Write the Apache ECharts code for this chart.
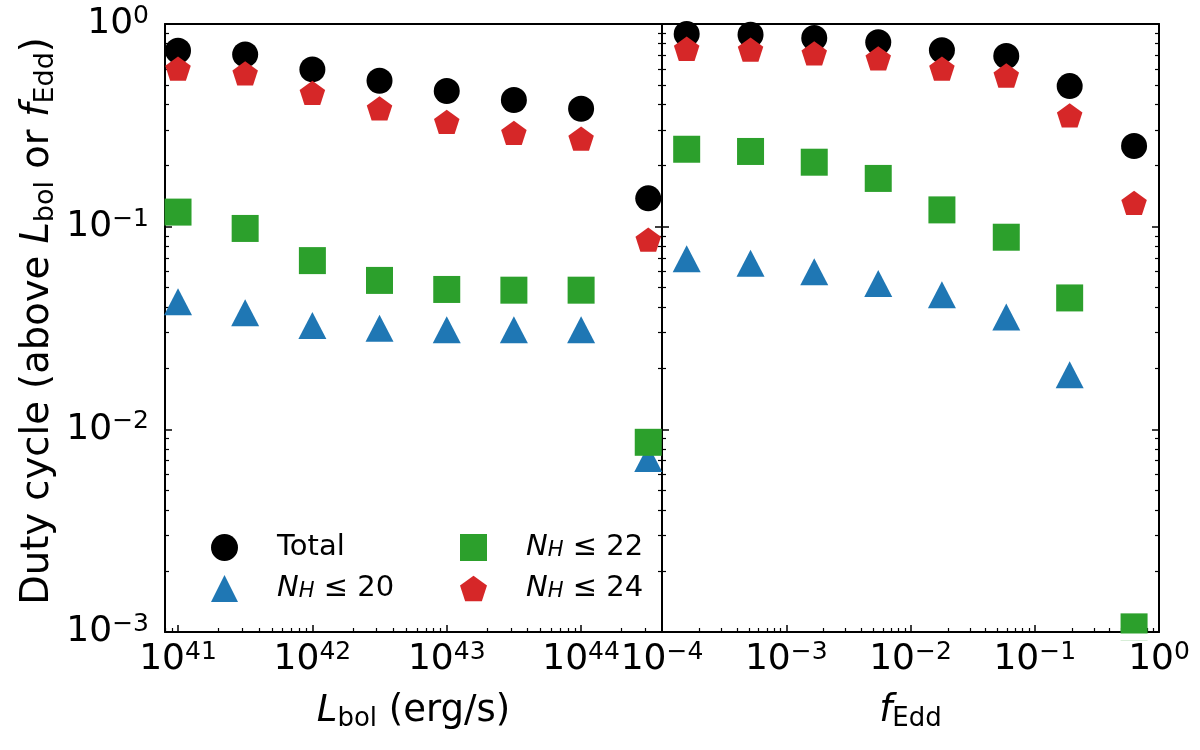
<!DOCTYPE html>
<html>
<head>
<meta charset="utf-8">
<title>Duty cycle</title>
<script src="https://cdn.jsdelivr.net/npm/echarts@6/dist/echarts.min.js"></script>
<style>
  html, body { margin: 0; padding: 0; background: #fff; }
  #chart { width: 1200px; height: 750px; }
</style>
</head>
<body>
<div id="chart"></div>
<script>
// left panel: duty cycle above L_bol (erg/s)
var lbolBins  = [1e41, 3.16e41, 1e42, 3.16e42, 1e43, 3.16e43, 1e44, 3.16e44];
var lbolTotal = [0.738, 0.708, 0.597, 0.525, 0.467, 0.422, 0.382, 0.138];
var lbolNH20  = [0.0426, 0.0376, 0.0325, 0.0315, 0.031, 0.031, 0.031, 0.00718];
var lbolNH22  = [0.118, 0.098, 0.068, 0.0543, 0.049, 0.0486, 0.0486, 0.00863];
var lbolNH24  = [0.593, 0.562, 0.451, 0.378, 0.324, 0.286, 0.268, 0.085];

// right panel: duty cycle above f_Edd
var feddBins  = [1.58e-4, 5.16e-4, 1.68e-3, 5.5e-3, 1.79e-2, 5.9e-2, 0.191, 0.63];
var feddTotal = [0.893, 0.885, 0.853, 0.813, 0.742, 0.695, 0.494, 0.250];
var feddNH20  = [0.0695, 0.0659, 0.0599, 0.0525, 0.0461, 0.0358, 0.0186, null];
var feddNH22  = [0.241, 0.235, 0.208, 0.173, 0.121, 0.0887, 0.0445, 0.00106];
var feddNH24  = [0.744, 0.736, 0.706, 0.667, 0.593, 0.549, 0.349, 0.129];

// axis ranges and major tick labels
var lbolRange = [8e40, 4e44];
var feddRange = [1e-4, 1];
var yRange = [1e-3, 1];
var lbolTicks = [1e41, 1e42, 1e43, 1e44];
var feddTicks = [1e-4, 1e-3, 1e-2, 1e-1, 1];
var yTicks = [1e-3, 1e-2, 1e-1, 1];

var seriesNames = ['Total', 'NH20', 'NH22', 'NH24'];
var legendText = {
  'Total': '{n|Total}',
  'NH20': '{i|N}{sub|H}{n| \u2264 20}',
  'NH22': '{i|N}{sub|H}{n| \u2264 22}',
  'NH24': '{i|N}{sub|H}{n| \u2264 24}'
};
var colors = ['#000000', '#1f77b4', '#2ca02c', '#d62728'];
var pentagon = 'path://M0,-1L0.951,-0.309L0.588,0.809L-0.588,0.809L-0.951,-0.309Z';
var symbols = ['circle', 'triangle', 'rect', pentagon];
var symbolSizes = [26, [28, 27], [27, 27], [25.5, 24.3]];
var symbolOffsets = [[0, 0], [0, 0], [0, 0], [0, -1.3]];

var FONT = 'DejaVu Sans';

function minorTicks(range) {
  var out = [];
  var lo = Math.floor(Math.log10(range[0]));
  var hi = Math.ceil(Math.log10(range[1]));
  for (var d = lo; d < hi; d++) {
    for (var k = 2; k <= 9; k++) {
      var v = k * Math.pow(10, d);
      if (v >= range[0] && v <= range[1]) out.push(v);
    }
  }
  return out;
}

function powLabel(v) {
  var e = Math.round(Math.log10(v));
  return '{b|10}{s|' + (e < 0 ? '\u2212' + (-e) : e) + '}';
}

var tickRich = {
  b: { fontFamily: FONT, fontSize: 36, lineHeight: 40, color: '#000' },
  s: { fontFamily: FONT, fontSize: 25, lineHeight: 22, verticalAlign: 'top', color: '#000' }
};
function nameRich(size) {
  return {
    n: { fontFamily: FONT, fontSize: size, lineHeight: 42, color: '#000' },
    i: { fontFamily: FONT, fontSize: size, lineHeight: 42, fontStyle: 'italic', color: '#000' },
    sub: { fontFamily: FONT, fontSize: Math.round(size * 0.7), lineHeight: 24, verticalAlign: 'bottom', color: '#000' }
  };
}

var lineStyle = { color: '#000', width: 2 };

function majorX(grid, range, ticks, name) {
  return {
    type: 'log', gridIndex: grid, position: 'bottom', min: range[0], max: range[1],
    axisLine: { show: true, lineStyle: lineStyle },
    axisTick: { show: true, inside: true, length: 7, customValues: ticks, lineStyle: { color: '#000', width: 1.5 } },
    axisLabel: { show: true, customValues: ticks, margin: 8, formatter: powLabel, rich: tickRich },
    splitLine: { show: false },
    name: name, nameLocation: 'middle', nameGap: 58,
    nameTextStyle: { rich: nameRich(37) }
  };
}
function minorX(grid, range) {
  return {
    type: 'log', gridIndex: grid, position: 'bottom', min: range[0], max: range[1],
    axisLine: { show: false },
    axisTick: { show: true, inside: true, length: 4, customValues: minorTicks(range), lineStyle: { color: '#000', width: 1.2 } },
    axisLabel: { show: false },
    splitLine: { show: false }
  };
}
function topX(grid, range) {
  return {
    type: 'log', gridIndex: grid, position: 'top', min: range[0], max: range[1],
    axisLine: { show: true, lineStyle: lineStyle },
    axisTick: { show: false }, axisLabel: { show: false }, splitLine: { show: false }
  };
}
function majorY(grid, pos, labels) {
  var ax = {
    type: 'log', gridIndex: grid, position: pos, min: yRange[0], max: yRange[1],
    axisLine: { show: true, lineStyle: lineStyle },
    axisTick: { show: true, inside: true, length: 7, customValues: yTicks, lineStyle: { color: '#000', width: 1.5 } },
    axisLabel: { show: labels, customValues: yTicks, margin: 16, formatter: powLabel, rich: tickRich },
    splitLine: { show: false }
  };
  if (labels) {
    ax.name = '{n|Duty cycle (above }{i|L}{sub|bol}{n| or }{i|f}{sub|Edd}{n|)}';
    ax.nameLocation = 'middle';
    ax.nameRotate = 90;
    ax.nameGap = 106;
    ax.nameTextStyle = { rich: nameRich(38.5), padding: [0, 0, 0, 14] };
  }
  return ax;
}
function minorY(grid, pos) {
  return {
    type: 'log', gridIndex: grid, position: pos, min: yRange[0], max: yRange[1],
    axisLine: { show: false },
    axisTick: { show: true, inside: true, length: 4, customValues: minorTicks(yRange), lineStyle: { color: '#000', width: 1.2 } },
    axisLabel: { show: false },
    splitLine: { show: false }
  };
}

function pairs(xs, ys) {
  var out = [];
  for (var i = 0; i < xs.length; i++) {
    if (ys[i] != null) out.push([xs[i], ys[i]]);
  }
  return out;
}

function makeSeries(xIdx, yIdx, xs, groups) {
  return groups.map(function (ys, i) {
    return {
      name: seriesNames[i],
      type: 'scatter',
      xAxisIndex: xIdx,
      yAxisIndex: yIdx,
      symbol: symbols[i],
      symbolSize: symbolSizes[i],
      symbolOffset: symbolOffsets[i],
      itemStyle: { color: colors[i], opacity: 1 },
      emphasis: { disabled: true },
      data: pairs(xs, ys)
    };
  });
}

var legendStyle = {
  fontFamily: FONT, fontSize: 29, color: '#000', padding: [0, 0, 0, 34],
  rich: {
    n: { fontFamily: FONT, fontSize: 29, lineHeight: 27, color: '#000' },
    i: { fontFamily: FONT, fontSize: 29, lineHeight: 27, fontStyle: 'italic', color: '#000' },
    sub: { fontFamily: FONT, fontSize: 21, lineHeight: 14, fontStyle: 'italic', verticalAlign: 'bottom', color: '#000' }
  }
};

var chart = echarts.init(document.getElementById('chart'), null, { renderer: 'canvas' });

var option = {
  animation: false,
  backgroundColor: '#ffffff',
  textStyle: { fontFamily: FONT },
  grid: [
    { left: 165, top: 24, width: 497, height: 608 },
    { left: 662, top: 24, width: 497, height: 608 }
  ],
  xAxis: [
    majorX(0, lbolRange, lbolTicks, '{i|L}{sub|bol}{n| (erg/s)}'),
    minorX(0, lbolRange),
    topX(0, lbolRange),
    majorX(1, feddRange, feddTicks, '{i|f}{sub|Edd}'),
    minorX(1, feddRange),
    topX(1, feddRange)
  ],
  yAxis: [
    majorY(0, 'left', true),
    minorY(0, 'left'),
    majorY(0, 'right', false),
    minorY(0, 'right'),
    majorY(1, 'left', false),
    minorY(1, 'left'),
    majorY(1, 'right', false),
    minorY(1, 'right')
  ],
  legend: [
    {
      data: ['Total', 'NH20'], orient: 'vertical', left: 206, top: 528,
      itemWidth: 27, itemHeight: 27, itemGap: 12,
      formatter: function (n) { return legendText[n]; },
      textStyle: legendStyle
    },
    {
      data: ['NH22', 'NH24'], orient: 'vertical', left: 455, top: 528,
      itemWidth: 27, itemHeight: 27, itemGap: 12,
      formatter: function (n) { return legendText[n]; },
      textStyle: legendStyle
    }
  ],
  series: makeSeries(0, 0, lbolBins, [lbolTotal, lbolNH20, lbolNH22, lbolNH24])
    .concat(makeSeries(3, 4, feddBins, [feddTotal, feddNH20, feddNH22, feddNH24]))
};

chart.setOption(option);

// matplotlib clips markers at the axes frame: mask what spills under the right panel
var axisY = chart.convertToPixel({ yAxisIndex: 4 }, yRange[0]);
var left = chart.convertToPixel({ xAxisIndex: 3 }, feddRange[0]);
var right = chart.convertToPixel({ xAxisIndex: 3 }, feddRange[1]);
chart.setOption({
  graphic: [{
    type: 'rect', z: 100, silent: true,
    shape: { x: left + 2, y: axisY + 1.5, width: right - left - 4, height: 7 },
    style: { fill: '#ffffff' }
  }]
});
window.addEventListener('resize', function () { chart.resize(); });
</script>
</body>
</html>
